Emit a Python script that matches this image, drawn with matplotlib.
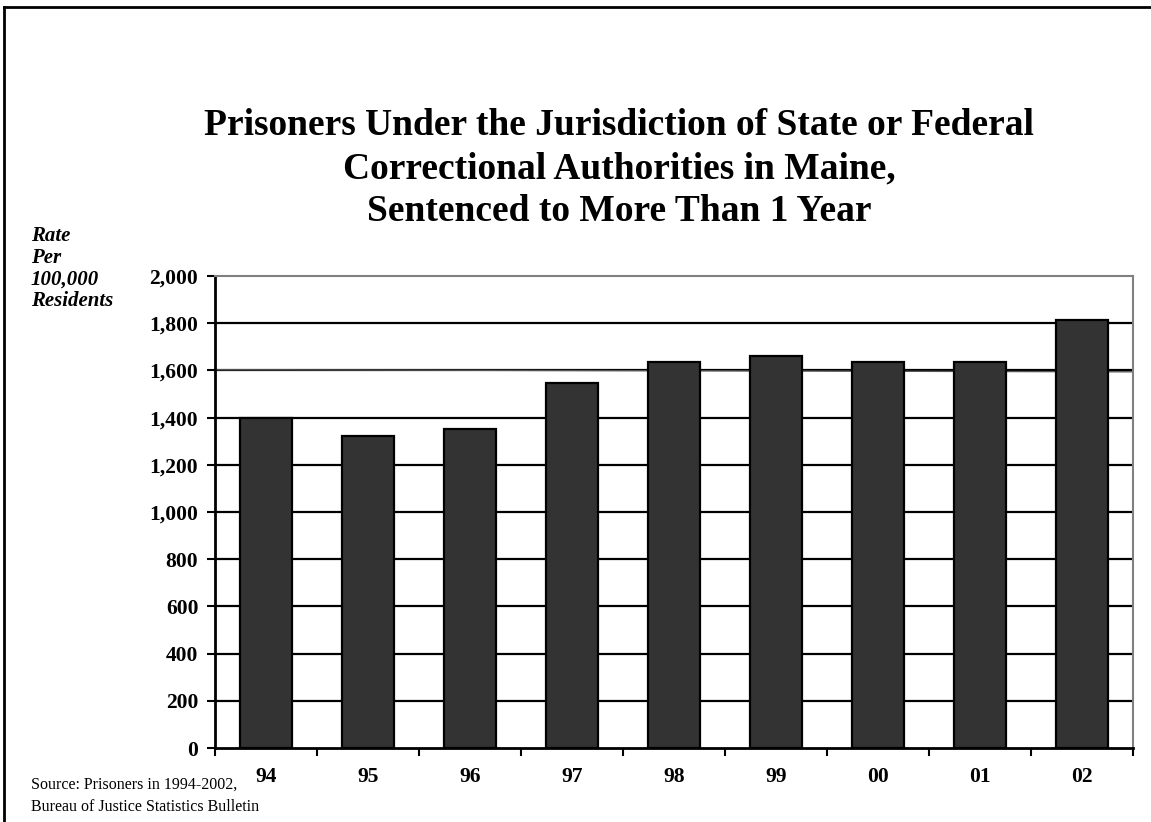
import matplotlib.pyplot as plt
from matplotlib.lines import Line2D

# Data
years = ['94', '95', '96', '97', '98', '99', '00', '01', '02']
rates = [1400, 1323, 1350, 1545, 1636, 1662, 1636, 1636, 1814]
trend_ends = [1603, 1594]
y_ticks = [0, 200, 400, 600, 800, 1000, 1200, 1400, 1600, 1800, 2000]

title_lines = ['Prisoners Under the Jurisdiction of State or Federal',
               'Correctional Authorities in Maine,',
               'Sentenced to More Than 1 Year']
source = 'Source: Prisoners in 1994-2002,\nBureau of Justice Statistics Bulletin'

W, H = 1151, 822
plt.rcParams['font.family'] = ['Liberation Serif', 'DejaVu Serif']

fig = plt.figure(figsize=(W / 100, H / 100), dpi=100)
ax = fig.add_axes([215 / W, 1 - 748 / H, (1133 - 215) / W, (748 - 276) / H])

x = list(range(len(years)))
ax.bar(x, rates, width=0.51, color='#333333', edgecolor='black', linewidth=1.6, zorder=3)

# gridlines
for v in y_ticks[1:-1]:
    ax.axhline(v, color='black', linewidth=1.6, zorder=1)

# thin line drawn across the chart
ax.plot([-0.5, len(years) - 0.5], trend_ends, color='#555555', linewidth=1.0, zorder=2)

ax.set_xlim(-0.5, len(years) - 0.5)
ax.set_ylim(0, 2000)

ax.set_yticks(y_ticks)
ax.set_yticklabels([f'{v:,}' for v in y_ticks], fontsize=15.5, fontweight='bold')
ax.tick_params(axis='y', direction='out', length=6, width=1.5, pad=6)

ax.set_xticks([i - 0.5 for i in range(len(years) + 1)])
ax.set_xticklabels([])
ax.set_xticks(x, minor=True)
ax.set_xticklabels(years, minor=True, fontsize=15.5, fontweight='bold')
ax.tick_params(axis='x', which='major', direction='out', length=6, width=1.5)
ax.tick_params(axis='x', which='minor', length=0, pad=14)

ax.spines['left'].set_linewidth(2)
ax.spines['bottom'].set_linewidth(2)
ax.spines['top'].set_color('#808080')
ax.spines['right'].set_color('#808080')
ax.spines['top'].set_linewidth(1.5)
ax.spines['right'].set_linewidth(1.5)

# title, one line at a time
for line, base in zip(title_lines, [135, 178, 221]):
    fig.text(619 / W, 1 - base / H, line, ha='center', va='baseline',
             fontsize=27, fontweight='bold')

fig.text(31 / W, 1 - 226 / H, 'Rate\nPer\n100,000\nResidents', ha='left', va='top',
         fontsize=15, fontweight='bold', style='italic', linespacing=1.12)

fig.text(31 / W, 1 - 777 / H, source, ha='left', va='top', fontsize=11.5, linespacing=1.5)

# frame around the figure (left and top)
fig.add_artist(Line2D([4 / W, 4 / W], [0, 1 - 7 / H], transform=fig.transFigure,
                      color='black', linewidth=2))
fig.add_artist(Line2D([4 / W, 1], [1 - 7 / H, 1 - 7 / H], transform=fig.transFigure,
                      color='black', linewidth=2))

fig.savefig('out.png', dpi=100)
